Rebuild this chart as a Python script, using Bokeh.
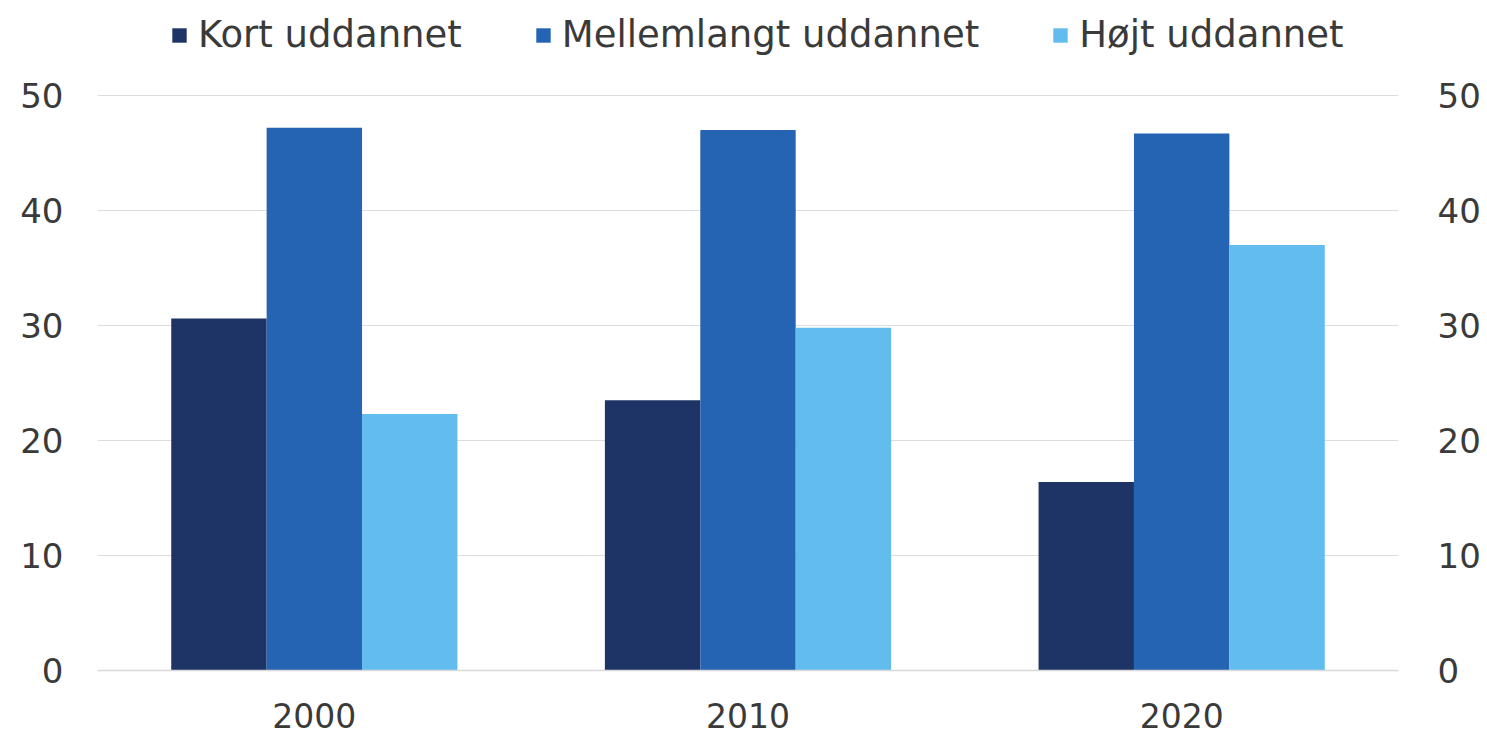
from bokeh.plotting import figure
from bokeh.models import Range1d, FactorRange, LinearAxis, FixedTicker, Legend, LegendItem, ColumnDataSource
from bokeh.transform import dodge
from bokeh.embed import file_html
from bokeh.resources import INLINE

years = ["2000", "2010", "2020"]
kort = [30.6, 23.5, 16.4]
mellem = [47.2, 47.0, 46.7]
hoejt = [22.3, 29.8, 37.0]
series_names = ["Kort uddannet", "Mellemlangt uddannet", "Højt uddannet"]
colors = ["#1f3466", "#2563b3", "#62bcee"]
yticks = [0, 10, 20, 30, 40, 50]

source = ColumnDataSource(dict(years=years, kort=kort, mellem=mellem, hoejt=hoejt))

FONT = "DejaVu Sans"
TXT = "#3a3a3a"

# y range extends above 50 to leave room for the legend inside the frame
p = figure(x_range=FactorRange(*years), y_range=Range1d(0, 58.26),
           width=1487, height=741, output_backend="svg", toolbar_location=None,
           min_border_left=97, min_border_right=89, min_border_top=0, min_border_bottom=71)
p.outline_line_color = None

renderers = []
for col, off, c in zip(["kort", "mellem", "hoejt"], [-0.22, 0.0, 0.22], colors):
    r = p.vbar(x=dodge("years", off, range=p.x_range), top=col, width=0.22,
               source=source, fill_color=c, line_color=None)
    renderers.append(r)

# axes
p.yaxis.ticker = FixedTicker(ticks=yticks)
p.yaxis.axis_line_color = None
p.yaxis.major_tick_line_color = None
p.yaxis.minor_tick_line_color = None
p.yaxis.major_label_standoff = 28
p.yaxis.major_label_text_font = FONT
p.yaxis.major_label_text_font_size = "34px"
p.yaxis.major_label_text_color = TXT

ra = LinearAxis(y_range_name="default", ticker=FixedTicker(ticks=yticks))
ra.axis_line_color = None
ra.major_tick_line_color = None
ra.minor_tick_line_color = None
ra.major_label_standoff = 33
ra.major_label_text_font = FONT
ra.major_label_text_font_size = "34px"
ra.major_label_text_color = TXT
p.add_layout(ra, "right")

p.xaxis.axis_line_color = "#d9d9d9"
p.xaxis.axis_line_width = 1.5
p.xaxis.major_tick_line_color = None
p.xaxis.minor_tick_line_color = None
p.xaxis.major_label_standoff = 26
p.xaxis.major_label_text_font = FONT
p.xaxis.major_label_text_font_size = "33px"
p.xaxis.major_label_text_color = TXT

p.xgrid.grid_line_color = None
p.ygrid.grid_line_color = "#dcdcdc"
p.ygrid.grid_line_width = 1

legend = Legend(items=[LegendItem(label=n, renderers=[r]) for n, r in zip(series_names, renderers)],
                orientation="horizontal", location=(73, 614))
legend.label_text_font = FONT
legend.label_text_font_size = "37px"
legend.label_text_color = TXT
legend.glyph_width = 18
legend.glyph_height = 18
legend.label_standoff = 10
legend.spacing = 72
legend.padding = 0
legend.margin = 0
legend.border_line_color = None
legend.background_fill_alpha = 0
p.add_layout(legend, "center")

open("out.html", "w").write(file_html(p, INLINE))
